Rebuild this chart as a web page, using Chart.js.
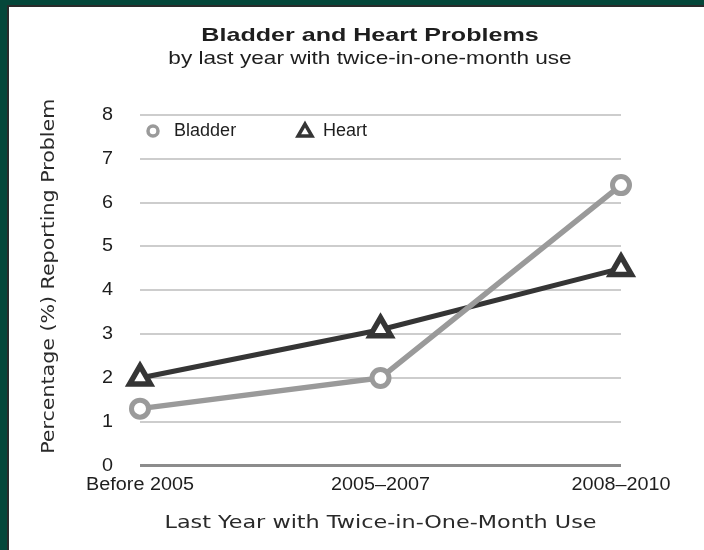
<!DOCTYPE html>
<html>
<head>
<meta charset="utf-8">
<script src="https://cdn.jsdelivr.net/npm/chart.js@4.4.0/dist/chart.umd.min.js"></script>
<style>
  html, body { margin: 0; padding: 0; background: #ffffff; }
  #wrap { position: relative; width: 704px; height: 550px; overflow: hidden; background: #ffffff; }
  #frameG { position: absolute; left: 0; top: 0; width: 704px; height: 550px; box-sizing: border-box;
            border-left: 7px solid #05473a; border-top: 5px solid #05473a; }
  #frameD { position: absolute; left: 7px; top: 5px; width: 697px; height: 545px; box-sizing: border-box;
            border-left: 2px solid #2b2b2b; border-top: 2px solid #2b2b2b; }
  canvas { position: absolute; left: 0; top: 0; }
</style>
</head>
<body>
<div id="wrap">
  <div id="frameG"></div>
  <div id="frameD"></div>
  <canvas id="chart" width="704" height="550"></canvas>
</div>
<script>
// ---- data ----
const categories = ['Before 2005', '2005–2007', '2008–2010'];
const seriesNames = ['Bladder', 'Heart'];
const bladderValues = [1.3, 2.0, 6.4];
const heartValues = [2.0, 3.1, 4.5];
const yMin = 0, yMax = 8, yStep = 1;
const chartTitle = 'Bladder and Heart Problems';
const chartSubtitle = 'by last year with twice-in-one-month use';
const xAxisTitle = 'Last Year with Twice-in-One-Month Use';
const yAxisTitle = 'Percentage (%) Reporting Problem';

// ---- horizontal text stretch (reference text is drawn wide) ----
function stretchFor(font) {
  const m = /([\d.]+)px/.exec(font);
  const s = m ? parseFloat(m[1]) : 0;
  const bold = /bold|700/.test(font);
  const dv = /DejaVu/.test(font);
  if (bold && s === 19) return { k: 1.32, dx: 0 };    // chart title
  if (!dv && s === 19) return { k: 1.19, dx: 0 };     // subtitle
  if (!dv && s === 18) return { k: 1.1, dx: 0 };      // tick labels
  if (!dv && s === 17.5) return { k: 1.03, dx: 0 };   // legend labels
  if (dv && s === 18) return { k: 1.24, dx: 0 };      // x axis title
  if (dv && s === 17.9) return { k: 1.15, dx: 14 };   // y axis title
  return null;
}
const P = CanvasRenderingContext2D.prototype;
const origFill = P.fillText, origMeasure = P.measureText;
P.fillText = function (t, x, y, mw) {
  const st = stretchFor(this.font);
  if (!st) { return mw === undefined ? origFill.call(this, t, x, y) : origFill.call(this, t, x, y, mw); }
  this.save(); this.translate(x + st.dx, y); this.scale(st.k, 1); origFill.call(this, t, 0, 0); this.restore();
};
P.measureText = function (t) {
  const m = origMeasure.call(this, t);
  const st = stretchFor(this.font);
  if (!st) return m;
  const k = st.k;
  return { width: m.width * k,
           actualBoundingBoxAscent: m.actualBoundingBoxAscent,
           actualBoundingBoxDescent: m.actualBoundingBoxDescent,
           actualBoundingBoxLeft: m.actualBoundingBoxLeft * k,
           actualBoundingBoxRight: m.actualBoundingBoxRight * k };
};

const BLADDER = '#9a9a9a';
const HEART = '#353535';
const SANS = '"Liberation Sans", Arial, sans-serif';
const DEJAVU = '"DejaVu Sans", Verdana, sans-serif';

// legend drawn inside the plot area, top-left
const insideLegend = {
  id: 'insideLegend',
  afterDraw(chart) {
    const ctx = chart.ctx, a = chart.chartArea;
    const items = [
      { ds: 0, dx: 13, textDx: 34, style: 'circle', r: 5, bw: 3.5 },
      { ds: 1, dx: 165, textDx: 183, style: 'triangle', r: 8, bw: 3.5 }
    ];
    const cy = a.top + 16;
    items.forEach(it => {
      const d = chart.data.datasets[it.ds];
      ctx.save();
      ctx.fillStyle = '#ffffff';
      ctx.strokeStyle = d.borderColor;
      ctx.lineWidth = it.bw;
      Chart.helpers.drawPoint(ctx, { pointStyle: it.style, radius: it.r, rotation: 0, borderWidth: it.bw }, a.left + it.dx, cy + (it.style === 'triangle' ? 1 : 0));
      ctx.font = '17.5px ' + SANS;
      ctx.fillStyle = '#1e1e1e';
      ctx.textBaseline = 'middle';
      ctx.textAlign = 'left';
      ctx.fillText(d.label, a.left + it.textDx, cy);
      ctx.restore();
    });
  }
};

new Chart(document.getElementById('chart'), {
  type: 'line',
  data: {
    labels: categories,
    datasets: [
      { label: seriesNames[0], data: bladderValues, borderColor: BLADDER, borderWidth: 5.5,
        pointStyle: 'circle', pointRadius: 8.5, pointHoverRadius: 8.5, pointBorderWidth: 5,
        pointBackgroundColor: '#ffffff', pointBorderColor: BLADDER, tension: 0, clip: false, order: 1 },
      { label: seriesNames[1], data: heartValues, borderColor: HEART, borderWidth: 5,
        pointStyle: 'triangle', pointRadius: 12, pointHoverRadius: 12, pointBorderWidth: 5.5,
        pointBackgroundColor: '#ffffff', pointBorderColor: HEART, tension: 0, clip: false, order: 2 }
    ]
  },
  options: {
    responsive: false,
    devicePixelRatio: 1,
    animation: false,
    events: [],
    layout: { padding: { left: 36, right: 0, top: 0, bottom: 0 } },
    plugins: {
      legend: { display: false },
      tooltip: { enabled: false },
      title: { display: true, text: chartTitle, color: '#1e1e1e',
               font: { family: SANS, size: 19, weight: 'bold' }, padding: { top: 24, bottom: 0 } },
      subtitle: { display: true, text: chartSubtitle, color: '#1e1e1e',
                  font: { family: SANS, size: 19, weight: 'normal' }, padding: { top: 1, bottom: 44.4 } }
    },
    scales: {
      x: {
        offset: false,
        grid: { display: false, drawTicks: false },
        border: { display: false },
        ticks: { color: '#1e1e1e', font: { family: SANS, size: 18 }, padding: 9, maxRotation: 0, autoSkip: false },
        title: { display: true, text: xAxisTitle, color: '#2a2a2a',
                 font: { family: DEJAVU, size: 18 }, padding: { top: 7.2, bottom: 16 } },
        afterFit(scale) { scale.paddingRight = 83; }
      },
      y: {
        min: yMin, max: yMax,
        grid: { drawTicks: false,
                color: c => (c.tick && c.tick.value === 0) ? '#8c8c8c' : '#cdcdcd',
                lineWidth: c => (c.tick && c.tick.value === 0) ? 3 : 2 },
        border: { display: false },
        ticks: { stepSize: yStep, color: '#1e1e1e', font: { family: SANS, size: 18 }, padding: 27 },
        title: { display: true, text: yAxisTitle, color: '#2a2a2a',
                 font: { family: DEJAVU, size: 17.9 }, padding: { top: 3, bottom: 0 } },
        afterFit(scale) { scale.width = 104; }
      }
    }
  },
  plugins: [insideLegend]
});
</script>
</body>
</html>
